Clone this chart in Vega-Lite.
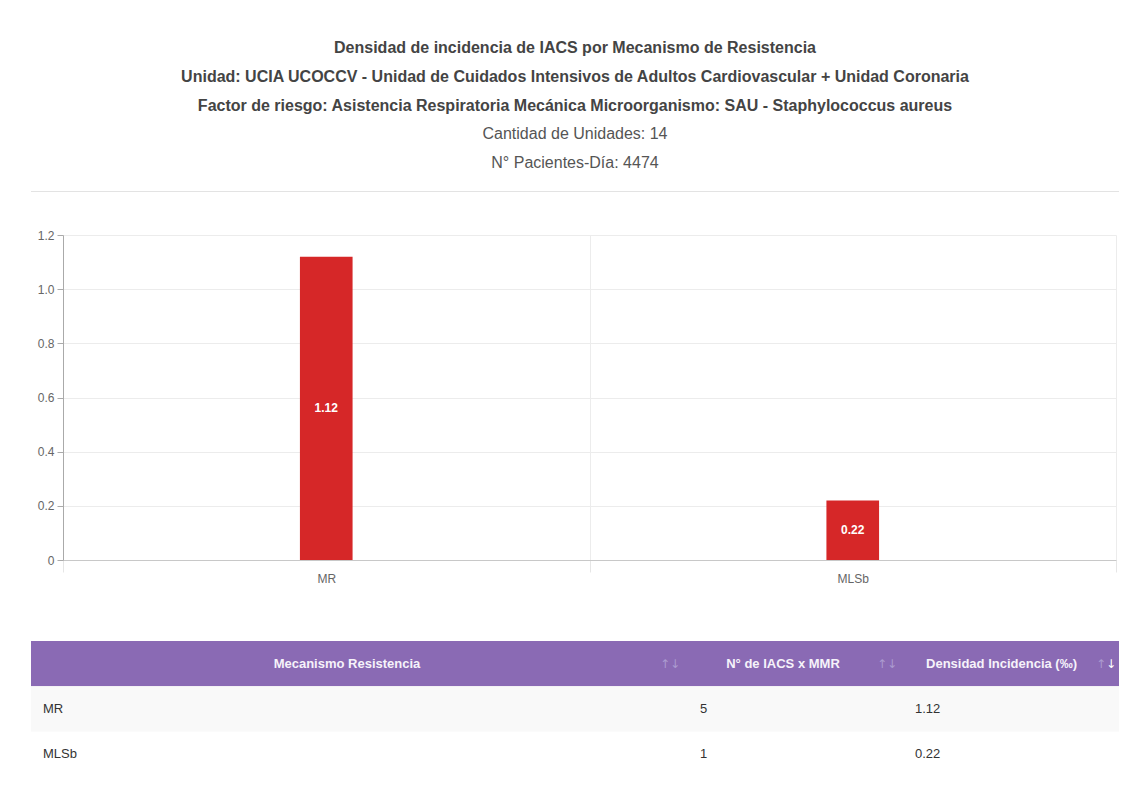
{
  "$schema": "https://vega.github.io/schema/vega-lite/v6.json",
  "background": "white",
  "padding": {"left": 30, "top": 40, "right": 0, "bottom": 0},
  "datasets": {
    "bars": [
      {"mecanismo": "MR", "iacs": 5, "densidad": 1.12},
      {"mecanismo": "MLSb", "iacs": 1, "densidad": 0.22}
    ],
    "tabla": [
      {"row": "h", "c1": "Mecanismo Resistencia", "c2": "N° de IACS x MMR", "c3": "Densidad Incidencia (‰)"},
      {"row": "MR", "c1": "MR", "c2": "5", "c3": "1.12"},
      {"row": "MLSb", "c1": "MLSb", "c2": "1", "c3": "0.22"}
    ]
  },
  "spacing": 37,
  "vconcat": [
    {
      "width": 1088,
      "height": 1,
      "title": {
        "text": [
          "Densidad de incidencia de IACS por Mecanismo de Resistencia",
          "Unidad: UCIA UCOCCV - Unidad de Cuidados Intensivos de Adultos Cardiovascular + Unidad Coronaria",
          "Factor de riesgo: Asistencia Respiratoria Mecánica Microorganismo: SAU - Staphylococcus aureus"
        ],
        "subtitle": ["Cantidad de Unidades: 14", "N° Pacientes-Día: 4474"],
        "anchor": "middle",
        "frame": "group",
        "font": "Liberation Sans",
        "fontSize": 16,
        "fontWeight": "bold",
        "color": "#444",
        "lineHeight": 29,
        "subtitleFont": "Liberation Sans",
        "subtitleFontSize": 16,
        "subtitleColor": "#555",
        "subtitleLineHeight": 29,
        "subtitlePadding": 12,
        "offset": 20
      },
      "data": {"values": [{"k": 0}]},
      "mark": {"type": "rule", "color": "#e3e3e3", "strokeWidth": 1},
      "encoding": {
        "y": {"field": "k", "type": "quantitative", "axis": null}
      }
    },
    {
      "spacing": 57,
      "vconcat": [
        {
          "spacing": 0,
          "hconcat": [
            {
              "width": 1,
              "height": 325,
              "data": {"values": []},
              "mark": {"type": "text"},
              "encoding": {}
            },
            {
              "width": 1053,
              "height": 325,
              "data": {"name": "bars"},
              "layer": [
                {
                  "mark": {"type": "bar", "color": "#d62728", "width": {"band": 0.1}},
                  "encoding": {
                    "x": {
                      "field": "mecanismo",
                      "type": "nominal",
                      "sort": null,
                      "scale": {"paddingInner": 0, "paddingOuter": 0},
                      "axis": {
                        "title": null,
                        "labelAngle": 0,
                        "tickBand": "extent",
                        "grid": true,
                        "gridColor": "#ececec",
                        "tickColor": "#e6e6e6",
                        "tickSize": 12,
                        "domainColor": "#c8c8c8",
                        "labelColor": "#666",
                        "labelFont": "Liberation Sans",
                        "labelFontSize": 12,
                        "labelPadding": 1
                      }
                    },
                    "y": {
                      "field": "densidad",
                      "type": "quantitative",
                      "scale": {"domain": [0, 1.2], "nice": false},
                      "axis": {
                        "title": null,
                        "values": [0, 0.2, 0.4, 0.6, 0.8, 1.0, 1.2],
                        "labelExpr": "datum.value == 0 ? '0' : format(datum.value, '.1f')",
                        "grid": true,
                        "gridColor": "#ececec",
                        "domainColor": "#aaa",
                        "tickColor": "#aaa",
                        "tickSize": 6,
                        "labelPadding": 3,
                        "labelColor": "#666",
                        "labelFont": "Liberation Sans",
                        "labelFontSize": 12,
                        "minExtent": 31,
                        "maxExtent": 31
                      }
                    }
                  }
                },
                {
                  "mark": {"type": "text", "color": "white", "fontWeight": "bold", "fontSize": 12, "font": "Liberation Sans", "baseline": "middle"},
                  "encoding": {
                    "x": {"field": "mecanismo", "type": "nominal", "sort": null},
                    "y": {"field": "densidad", "type": "quantitative", "scale": {"domain": [0, 2.4], "nice": false}, "axis": null},
                    "text": {"field": "densidad", "type": "quantitative", "format": ".2f"}
                  }
                }
              ],
              "resolve": {"scale": {"y": "independent"}, "axis": {"y": "independent"}}
            }
          ]
        },
        {
          "spacing": 0,
          "bounds": "flush",
          "data": {"name": "tabla"},
          "hconcat": [
            {
              "width": 657,
              "height": 136,
              "layer": [
                {
                  "mark": {"type": "rect"},
                  "encoding": {
                    "y": {"field": "row", "type": "nominal", "scale": {"domain": ["h", "MR", "MLSb"], "paddingInner": 0, "paddingOuter": 0}, "axis": null},
                    "color": {"field": "row", "type": "nominal", "scale": {"domain": ["h", "MR", "MLSb"], "range": ["#8a6ab4", "#f9f9f9", "#ffffff"]}, "legend": null}
                  }
                },
                {
                  "transform": [{"filter": "datum.row == 'h'"}],
                  "mark": {"type": "text", "color": "#f6f3fa", "fontWeight": "bold", "fontSize": 13, "font": "Liberation Sans", "dx": -12.5},
                  "encoding": {
                    "y": {"field": "row", "type": "nominal"},
                    "text": {"field": "c1"}
                  }
                },
                {
                  "transform": [{"filter": "datum.row == 'h'"}],
                  "mark": {"type": "text", "color": "#ac9bd0", "fontSize": 12, "font": "DejaVu Sans", "dx": 310.5},
                  "encoding": {
                    "y": {"field": "row", "type": "nominal"},
                    "text": {"value": "↑↓"}
                  }
                },
                {
                  "transform": [{"filter": "datum.row != 'h'"}],
                  "mark": {"type": "text", "color": "#333", "fontSize": 13, "font": "Liberation Sans", "align": "left", "dx": -316.5},
                  "encoding": {
                    "y": {"field": "row", "type": "nominal"},
                    "text": {"field": "c1"}
                  }
                }
              ]
            },
            {
              "width": 215,
              "height": 136,
              "layer": [
                {
                  "mark": {"type": "rect"},
                  "encoding": {
                    "y": {"field": "row", "type": "nominal", "scale": {"domain": ["h", "MR", "MLSb"], "paddingInner": 0, "paddingOuter": 0}, "axis": null},
                    "color": {"field": "row", "type": "nominal", "scale": {"domain": ["h", "MR", "MLSb"], "range": ["#8a6ab4", "#f9f9f9", "#ffffff"]}, "legend": null}
                  }
                },
                {
                  "transform": [{"filter": "datum.row == 'h'"}],
                  "mark": {"type": "text", "color": "#f6f3fa", "fontWeight": "bold", "fontSize": 13, "font": "Liberation Sans", "dx": -12.5},
                  "encoding": {
                    "y": {"field": "row", "type": "nominal"},
                    "text": {"field": "c2"}
                  }
                },
                {
                  "transform": [{"filter": "datum.row == 'h'"}],
                  "mark": {"type": "text", "color": "#ac9bd0", "fontSize": 12, "font": "DejaVu Sans", "dx": 91.5},
                  "encoding": {
                    "y": {"field": "row", "type": "nominal"},
                    "text": {"value": "↑↓"}
                  }
                },
                {
                  "transform": [{"filter": "datum.row != 'h'"}],
                  "mark": {"type": "text", "color": "#333", "fontSize": 13, "font": "Liberation Sans", "align": "left", "dx": -95.5},
                  "encoding": {
                    "y": {"field": "row", "type": "nominal"},
                    "text": {"field": "c2"}
                  }
                }
              ]
            },
            {
              "width": 216,
              "height": 136,
              "layer": [
                {
                  "mark": {"type": "rect"},
                  "encoding": {
                    "y": {"field": "row", "type": "nominal", "scale": {"domain": ["h", "MR", "MLSb"], "paddingInner": 0, "paddingOuter": 0}, "axis": null},
                    "color": {"field": "row", "type": "nominal", "scale": {"domain": ["h", "MR", "MLSb"], "range": ["#8a6ab4", "#f9f9f9", "#ffffff"]}, "legend": null}
                  }
                },
                {
                  "transform": [{"filter": "datum.row == 'h'"}],
                  "mark": {"type": "text", "color": "#f6f3fa", "fontWeight": "bold", "fontSize": 13, "font": "Liberation Sans", "dx": -9.5},
                  "encoding": {
                    "y": {"field": "row", "type": "nominal"},
                    "text": {"field": "c3"}
                  }
                },
                {
                  "transform": [{"filter": "datum.row == 'h'"}],
                  "mark": {"type": "text", "color": "#ac9bd0", "fontSize": 12, "font": "DejaVu Sans", "align": "right", "dx": 95},
                  "encoding": {
                    "y": {"field": "row", "type": "nominal"},
                    "text": {"value": "↑"}
                  }
                },
                {
                  "transform": [{"filter": "datum.row == 'h'"}],
                  "mark": {"type": "text", "color": "#ffffff", "fontSize": 12, "font": "DejaVu Sans", "align": "left", "dx": 95},
                  "encoding": {
                    "y": {"field": "row", "type": "nominal"},
                    "text": {"value": "↓"}
                  }
                },
                {
                  "transform": [{"filter": "datum.row != 'h'"}],
                  "mark": {"type": "text", "color": "#333", "fontSize": 13, "font": "Liberation Sans", "align": "left", "dx": -96},
                  "encoding": {
                    "y": {"field": "row", "type": "nominal"},
                    "text": {"field": "c3"}
                  }
                }
              ]
            }
          ]
        }
      ]
    }
  ],
  "config": {
    "font": "Liberation Sans",
    "view": {"stroke": null}
  }
}
